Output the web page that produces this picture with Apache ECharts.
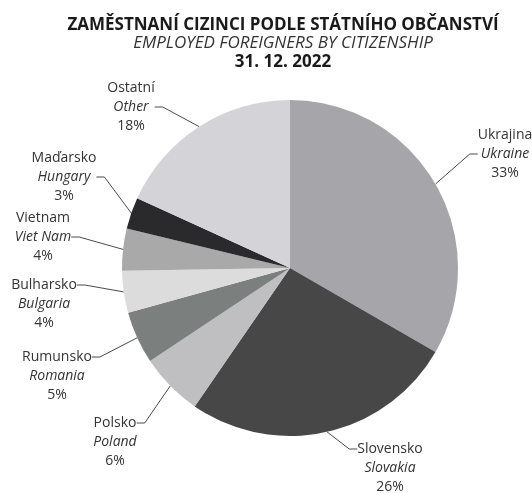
<!DOCTYPE html>
<html>
<head>
<meta charset="utf-8">
<script src="https://cdn.jsdelivr.net/npm/echarts@6/dist/echarts.min.js"></script>
<style>
  html, body { margin: 0; padding: 0; background: #fff; }
  #chart { width: 532px; height: 493px; }
</style>
</head>
<body>
<div id="chart"></div>
<script>
// data
const namesCz = ['Ukrajina', 'Slovensko', 'Polsko', 'Rumunsko', 'Bulharsko', 'Vietnam', 'Maďarsko', 'Ostatní'];
const namesEn = ['Ukraine', 'Slovakia', 'Poland', 'Romania', 'Bulgaria', 'Viet Nam', 'Hungary', 'Other'];
const shares = [33, 26, 6, 5, 4, 4, 3, 18];

const titleLines = [
  'ZAMĚSTNANÍ CIZINCI PODLE STÁTNÍHO OBČANSTVÍ',
  'EMPLOYED FOREIGNERS BY CITIZENSHIP',
  '31. 12. 2022'
];

// layout / styling (not data)
const sliceColors = ['#a6a6aa', '#474747', '#bfbfc1', '#7b807e', '#dcdcdc', '#a9a9a9', '#2a292c', '#d4d4d8'];
// label block centre; topAttach = label line goes to the first text line
const labelPos = [
  [505, 154, false],
  [390, 449, true],
  [115, 423, true],
  [57, 357, true],
  [44, 285, true],
  [43, 237, false],
  [64, 177, false],
  [131, 107, false]
];

const chartDom = document.getElementById('chart');
const myChart = echarts.init(chartDom);

const font = '"Open Sans", sans-serif';

const pieData = shares.map((v, i) => {
  const item = { name: namesCz[i], value: v, itemStyle: { color: sliceColors[i] } };
  if (labelPos[i][2]) {
    // extra top padding so the line meets the first row
    item.label = { padding: [38, 0, 0, 0], backgroundColor: 'rgba(0,0,0,0)' };
  }
  return item;
});

const option = {
  backgroundColor: '#fff',
  animation: false,
  graphic: titleLines.map((t, i) => ({
    type: 'text',
    x: 283,
    y: [25, 43.5, 62][i],
    style: {
      text: t,
      align: 'center',
      verticalAlign: 'middle',
      fontFamily: font,
      fontSize: 17,
      fontWeight: i === 1 ? 'normal' : 'bold',
      fontStyle: i === 1 ? 'italic' : 'normal',
      fill: i === 1 ? '#333' : '#1a1a1a'
    }
  })),
  series: [
    {
      type: 'pie',
      center: [290, 268],
      radius: 168,
      startAngle: 90,
      clockwise: true,
      avoidLabelOverlap: false,
      silent: true,
      data: pieData,
      itemStyle: { borderWidth: 0 },
      label: {
        show: true,
        position: 'outside',
        overflow: 'none',
        formatter: function (p) {
          return '{cz|' + namesCz[p.dataIndex] + '}\n{en|' + namesEn[p.dataIndex] + '}\n{pct|' + shares[p.dataIndex] + '%}';
        },
        rich: {
          cz: { fontFamily: font, fontSize: 14, lineHeight: 19, color: '#333', align: 'center' },
          en: { fontFamily: font, fontSize: 14, lineHeight: 19, color: '#333', fontStyle: 'italic', align: 'center' },
          pct: { fontFamily: font, fontSize: 14, lineHeight: 19, color: '#333', align: 'center' }
        }
      },
      labelLine: {
        show: true,
        length: 20,
        length2: 8,
        lineStyle: { color: '#4a4a4a', width: 1 }
      },
      labelLayout: function (params) {
        const p = labelPos[params.dataIndex];
        return { x: p[0], y: p[1], align: 'center', verticalAlign: 'middle' };
      }
    }
  ]
};

myChart.setOption(option);
</script>
</body>
</html>
